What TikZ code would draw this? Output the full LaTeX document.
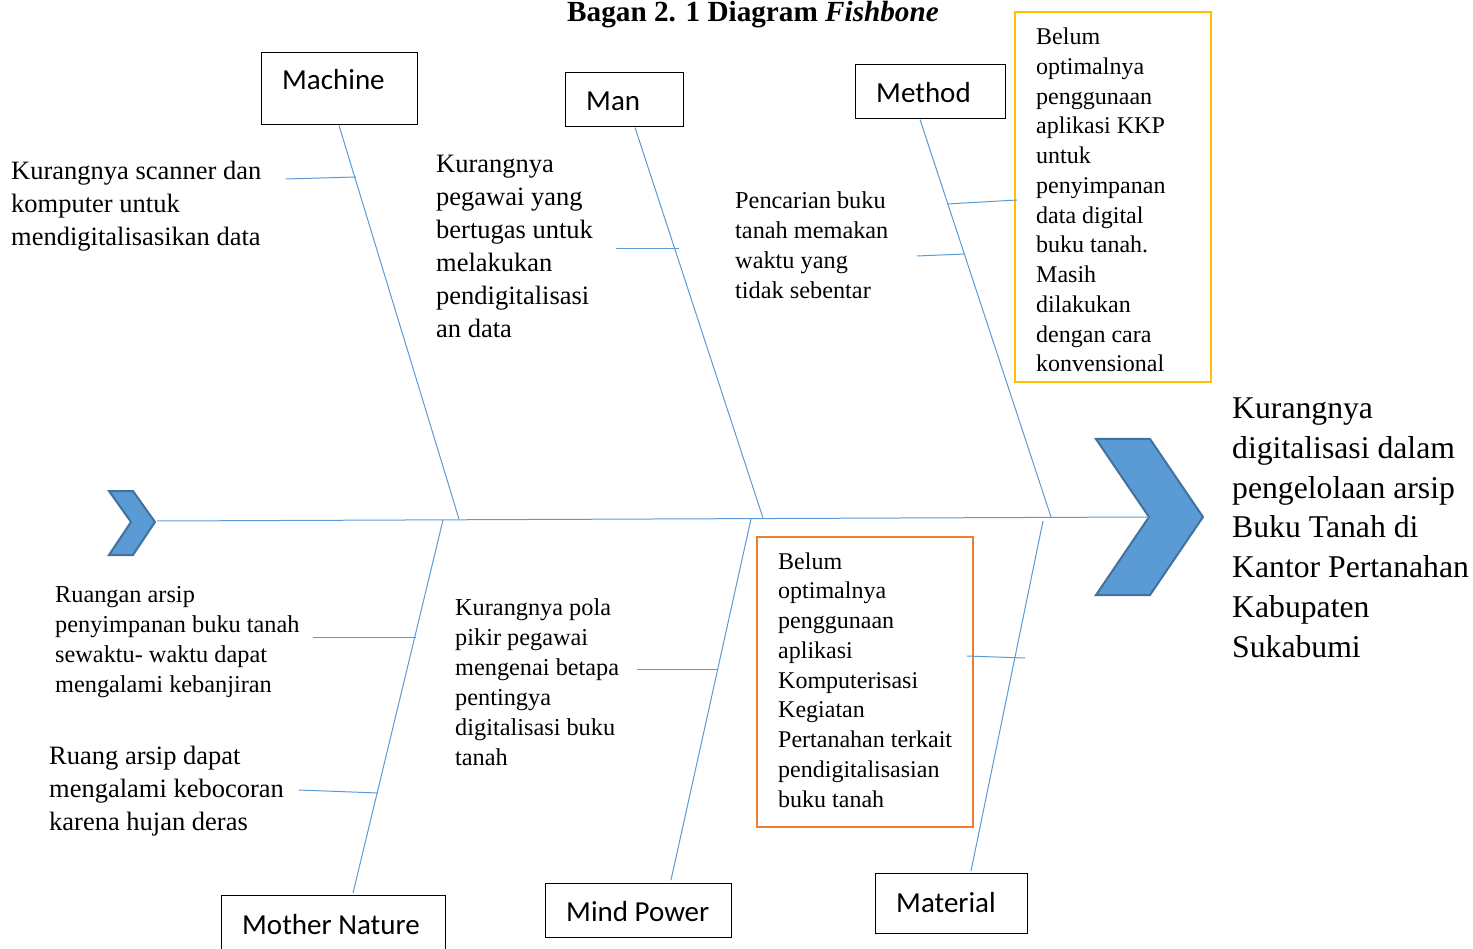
\documentclass[tikz,border=0pt]{standalone}
\usepackage{fontspec}
\setmainfont{Liberation Serif}
\newfontfamily\calfont{Carlito}
\definecolor{boneblue}{RGB}{91,155,213}
\definecolor{chevfill}{RGB}{91,155,213}
\definecolor{chevedge}{RGB}{65,113,156}
\definecolor{yellowbox}{RGB}{255,192,0}
\definecolor{orangebox}{RGB}{237,125,49}
\begin{document}
\begin{tikzpicture}[x=1pt,y=-1pt,
  bone/.style={draw=boneblue, line width=1pt},
  catbox/.style={draw=black, line width=1pt, inner sep=0pt},
  cattext/.style={font=\calfont\fontsize{29}{35}\selectfont, inner sep=0pt, anchor=base west},
  txt/.style={align=left, inner sep=0pt, anchor=base west},
  ftA/.style={font=\fontsize{26.5}{33}\selectfont},
  ftB/.style={font=\fontsize{24.3}{30}\selectfont},
  ftC/.style={font=\fontsize{24}{29.75}\selectfont},
  chev/.style={fill=chevfill, draw=chevedge, line width=2pt, line join=miter}]
\useasboundingbox (0,0) rectangle (1473,949);
% title
\node[inner sep=0pt, anchor=base, font=\bfseries\fontsize{29.2}{34}\selectfont] (title) at (753,22) {Bagan 2. 1 Diagram \textit{Fishbone}};
% chevrons
\draw[chev] (109,491) -- (133,491) -- (155,522) -- (133,555) -- (109,555) -- (131,522) -- cycle;
\draw[chev] (1096,439) -- (1150,439) -- (1203,517) -- (1150,595) -- (1096,595) -- (1149,517) -- cycle;
\coordinate (tail) at (157,521);
\coordinate (head) at (1149,517);
\draw[bone] (tail) -- (head);
% category boxes
\node[catbox, minimum width=156pt, minimum height=72pt] (machine) at (339,89) {};
\node[cattext] (machinet) at (282,90) {Machine};
\node[catbox, minimum width=118pt, minimum height=54pt] (man) at (624,100) {};
\node[cattext] (mant) at (586,111) {Man};
\node[catbox, minimum width=150pt, minimum height=54pt] (method) at (930,92) {};
\node[cattext] (methodt) at (876,103) {Method};
\node[catbox, minimum width=224pt, minimum height=60pt] (mother) at (333,925) {};
\node[cattext] (mothert) at (242,934) {Mother Nature};
\node[catbox, minimum width=186pt, minimum height=54pt] (mind) at (638,910) {};
\node[cattext] (mindt) at (566,921) {Mind Power};
\node[catbox, minimum width=152pt, minimum height=60pt] (material) at (951,903) {};
\node[cattext] (materialt) at (896,912) {Material};
% colored boxes
\node[draw=yellowbox, line width=2pt, minimum width=196pt, minimum height=370pt, inner sep=0pt] (ybox) at (1113,197) {};
\node[draw=orangebox, line width=2pt, minimum width=216pt, minimum height=290pt, inner sep=0pt] (obox) at (865,682) {};
% spine points
\coordinate (s1) at (459,519);
\coordinate (s2) at (763,518);
\coordinate (s3) at (1051,517);
\coordinate (s4) at (443,520);
\coordinate (s5) at (751,519);
\coordinate (s6) at (1043,521);
% main bones
\draw[bone] (machine.south) -- (s1);
\draw[bone] (man.south) ++(11,0) -- (s2);
\draw[bone] (method.south) ++(-10,0) -- (s3);
\draw[bone] (s4) -- (353,893);
\draw[bone] (s5) -- (671,880);
\draw[bone] (s6) -- (971,871);
% texts (anchored at baseline of last line)
\node[txt, ftA] (t1) at (11,246) {Kurangnya scanner dan\\komputer untuk\\mendigitalisasikan data};
\node[txt, ftA] (t2) at (436,338) {Kurangnya\\pegawai yang\\bertugas untuk\\melakukan\\pendigitalisasi\\an data};
\node[txt, ftB] (t3) at (735,299) {Pencarian buku\\tanah memakan\\waktu yang\\tidak sebentar};
\node[txt, ftC] (t4) at (1036,372) {Belum\\optimalnya\\penggunaan\\aplikasi KKP\\untuk\\penyimpanan\\data digital\\buku tanah.\\Masih\\dilakukan\\dengan cara\\konvensional};
\node[txt, font=\fontsize{31.7}{39.7}\selectfont] (effect) at (1232,657) {Kurangnya\\digitalisasi dalam\\pengelolaan arsip\\Buku Tanah di\\Kantor Pertanahan\\Kabupaten\\Sukabumi};
\node[txt, ftB] (t5) at (55,692) {Ruangan arsip\\penyimpanan buku tanah\\sewaktu- waktu dapat\\mengalami kebanjiran};
\node[txt, ftA] (t6) at (49,830) {Ruang arsip dapat\\mengalami kebocoran\\karena hujan deras};
\node[txt, ftB] (t7) at (455,765) {Kurangnya pola\\pikir pegawai\\mengenai betapa\\pentingya\\digitalisasi buku\\tanah};
\node[txt, ftC] (t8) at (778,807) {Belum\\optimalnya\\penggunaan\\aplikasi\\Komputerisasi\\Kegiatan\\Pertanahan terkait\\pendigitalisasian\\buku tanah};
% sub-branches
\coordinate (b1a) at (286,179); \coordinate (b1b) at (356,177);
\coordinate (b2a) at (616,249); \coordinate (b2b) at (679,249);
\coordinate (b3a) at (947,204); \coordinate (b3b) at (1017,200);
\coordinate (b4a) at (917,256); \coordinate (b4b) at (965,254);
\coordinate (b5a) at (313,637); \coordinate (b5b) at (416,637);
\coordinate (b6a) at (299,790); \coordinate (b6b) at (378,793);
\coordinate (b7a) at (637,669); \coordinate (b7b) at (717,669);
\coordinate (b8a) at (967,656); \coordinate (b8b) at (1025,658);
\draw[bone] (b1a) -- (b1b);
\draw[bone] (b2a) -- (b2b);
\draw[bone] (b3a) -- (b3b);
\draw[bone] (b4a) -- (b4b);
\draw[bone] (b5a) -- (b5b);
\draw[bone] (b6a) -- (b6b);
\draw[bone] (b7a) -- (b7b);
\draw[bone] (b8a) -- (b8b);
\end{tikzpicture}
\end{document}
